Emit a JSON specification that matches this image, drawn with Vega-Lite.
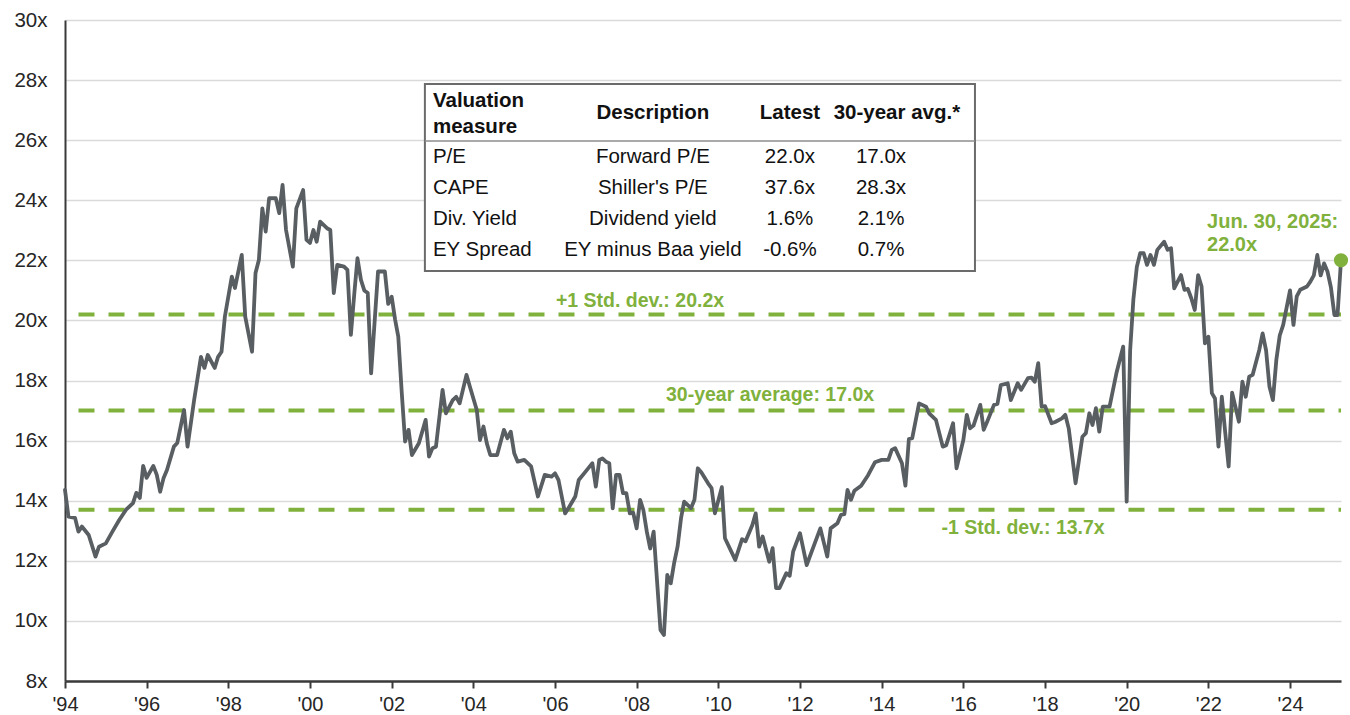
{
  "$schema": "https://vega.github.io/schema/vega-lite/v6.json",
  "width": 1276,
  "height": 661,
  "autosize": {"type": "none"},
  "padding": {"left": 65, "top": 20, "right": 9, "bottom": 34},
  "background": "#ffffff",
  "config": {
    "view": {"stroke": null},
    "font": "Liberation Sans",
    "axisX": {"grid": false, "domainColor": "#3a3a3a", "domainWidth": 2.5, "tickColor": "#3a3a3a", "tickWidth": 2, "tickSize": 7, "labelPadding": 6, "labelFontSize": 20, "labelColor": "#262626", "labelFlush": false, "labelOverlap": false, "labelFont": "Liberation Sans"},
    "axisY": {"grid": true, "gridColor": "#dadada", "gridWidth": 1.5, "domainColor": "#3a3a3a", "domainWidth": 2, "ticks": false, "labelPadding": 18, "labelFontSize": 20.5, "labelColor": "#262626", "labelFont": "Liberation Sans"}
  },
  "datasets": {
    "pe": [
      {"date": "1994-01-01", "value": 14.36}, {"date": "1994-02-01", "value": 13.47}, {"date": "1994-04-01", "value": 13.43}, {"date": "1994-05-01", "value": 12.97}, {"date": "1994-06-01", "value": 13.14}, {"date": "1994-08-01", "value": 12.86}, {"date": "1994-10-01", "value": 12.14}, {"date": "1994-11-01", "value": 12.47},
      {"date": "1995-01-01", "value": 12.58}, {"date": "1995-03-01", "value": 12.97}, {"date": "1995-05-01", "value": 13.36}, {"date": "1995-07-01", "value": 13.70}, {"date": "1995-09-01", "value": 13.92}, {"date": "1995-10-01", "value": 14.26}, {"date": "1995-11-01", "value": 14.09}, {"date": "1995-12-01", "value": 15.16},
      {"date": "1996-01-01", "value": 14.76}, {"date": "1996-03-01", "value": 15.16}, {"date": "1996-04-01", "value": 14.86}, {"date": "1996-05-01", "value": 14.30}, {"date": "1996-06-01", "value": 14.76}, {"date": "1996-07-01", "value": 15.02}, {"date": "1996-09-01", "value": 15.80}, {"date": "1996-10-01", "value": 15.92}, {"date": "1996-12-01", "value": 17.02},
      {"date": "1997-01-01", "value": 15.80}, {"date": "1997-03-01", "value": 17.35}, {"date": "1997-05-01", "value": 18.79}, {"date": "1997-06-01", "value": 18.42}, {"date": "1997-07-01", "value": 18.85}, {"date": "1997-09-01", "value": 18.42}, {"date": "1997-10-01", "value": 18.79}, {"date": "1997-11-01", "value": 18.96}, {"date": "1997-12-01", "value": 20.13},
      {"date": "1998-02-01", "value": 21.46}, {"date": "1998-03-01", "value": 21.08}, {"date": "1998-05-01", "value": 22.18}, {"date": "1998-06-01", "value": 20.13}, {"date": "1998-08-01", "value": 18.96}, {"date": "1998-09-01", "value": 21.58}, {"date": "1998-10-01", "value": 22.01}, {"date": "1998-11-01", "value": 23.73}, {"date": "1998-12-01", "value": 22.96},
      {"date": "1999-01-01", "value": 24.07}, {"date": "1999-03-01", "value": 24.07}, {"date": "1999-04-01", "value": 23.57}, {"date": "1999-05-01", "value": 24.51}, {"date": "1999-06-01", "value": 23.01}, {"date": "1999-08-01", "value": 21.79}, {"date": "1999-09-01", "value": 23.73}, {"date": "1999-11-01", "value": 24.34}, {"date": "1999-12-01", "value": 22.68},
      {"date": "2000-01-01", "value": 22.58}, {"date": "2000-02-01", "value": 23.01}, {"date": "2000-03-01", "value": 22.62}, {"date": "2000-04-01", "value": 23.29}, {"date": "2000-06-01", "value": 23.07}, {"date": "2000-07-01", "value": 23.01}, {"date": "2000-08-01", "value": 20.91}, {"date": "2000-09-01", "value": 21.85}, {"date": "2000-11-01", "value": 21.79}, {"date": "2000-12-01", "value": 21.68},
      {"date": "2001-01-01", "value": 19.52}, {"date": "2001-02-01", "value": 20.91}, {"date": "2001-03-01", "value": 22.07}, {"date": "2001-04-01", "value": 21.35}, {"date": "2001-05-01", "value": 21.00}, {"date": "2001-06-01", "value": 20.91}, {"date": "2001-07-01", "value": 18.24}, {"date": "2001-09-01", "value": 21.63}, {"date": "2001-11-01", "value": 21.63}, {"date": "2001-12-01", "value": 20.55},
      {"date": "2002-01-01", "value": 20.79}, {"date": "2002-02-01", "value": 20.02}, {"date": "2002-03-01", "value": 19.46}, {"date": "2002-04-01", "value": 17.60}, {"date": "2002-05-01", "value": 15.97}, {"date": "2002-06-01", "value": 16.36}, {"date": "2002-07-01", "value": 15.52}, {"date": "2002-09-01", "value": 15.91}, {"date": "2002-11-01", "value": 16.69}, {"date": "2002-12-01", "value": 15.47},
      {"date": "2003-01-01", "value": 15.75}, {"date": "2003-02-01", "value": 15.80}, {"date": "2003-04-01", "value": 17.69}, {"date": "2003-05-01", "value": 16.91}, {"date": "2003-07-01", "value": 17.35}, {"date": "2003-08-01", "value": 17.46}, {"date": "2003-09-01", "value": 17.24}, {"date": "2003-11-01", "value": 18.19}, {"date": "2003-12-01", "value": 17.80},
      {"date": "2004-02-01", "value": 17.02}, {"date": "2004-03-01", "value": 16.02}, {"date": "2004-04-01", "value": 16.47}, {"date": "2004-05-01", "value": 15.91}, {"date": "2004-06-01", "value": 15.52}, {"date": "2004-08-01", "value": 15.52}, {"date": "2004-10-01", "value": 16.36}, {"date": "2004-11-01", "value": 16.08}, {"date": "2004-12-01", "value": 16.30},
      {"date": "2005-01-01", "value": 15.58}, {"date": "2005-02-01", "value": 15.30}, {"date": "2005-04-01", "value": 15.36}, {"date": "2005-06-01", "value": 15.14}, {"date": "2005-08-01", "value": 14.14}, {"date": "2005-10-01", "value": 14.86}, {"date": "2005-12-01", "value": 14.80},
      {"date": "2006-01-01", "value": 14.91}, {"date": "2006-02-01", "value": 14.69}, {"date": "2006-04-01", "value": 13.58}, {"date": "2006-05-01", "value": 13.75}, {"date": "2006-07-01", "value": 14.14}, {"date": "2006-08-01", "value": 14.69}, {"date": "2006-10-01", "value": 14.97}, {"date": "2006-12-01", "value": 15.25},
      {"date": "2007-01-01", "value": 14.47}, {"date": "2007-02-01", "value": 15.36}, {"date": "2007-03-01", "value": 15.41}, {"date": "2007-04-01", "value": 15.30}, {"date": "2007-05-01", "value": 15.25}, {"date": "2007-06-01", "value": 13.75}, {"date": "2007-07-01", "value": 14.86}, {"date": "2007-08-01", "value": 14.86}, {"date": "2007-09-01", "value": 14.25}, {"date": "2007-10-01", "value": 14.25}, {"date": "2007-11-01", "value": 13.58}, {"date": "2007-12-01", "value": 13.60},
      {"date": "2008-01-01", "value": 13.08}, {"date": "2008-02-01", "value": 14.03}, {"date": "2008-03-01", "value": 13.69}, {"date": "2008-04-01", "value": 12.97}, {"date": "2008-05-01", "value": 12.41}, {"date": "2008-06-01", "value": 12.97}, {"date": "2008-07-01", "value": 11.36}, {"date": "2008-08-01", "value": 9.70}, {"date": "2008-09-01", "value": 9.53}, {"date": "2008-10-01", "value": 11.53}, {"date": "2008-11-01", "value": 11.25}, {"date": "2008-12-01", "value": 11.92},
      {"date": "2009-01-01", "value": 12.47}, {"date": "2009-02-01", "value": 13.42}, {"date": "2009-03-01", "value": 13.97}, {"date": "2009-05-01", "value": 13.75}, {"date": "2009-06-01", "value": 14.03}, {"date": "2009-07-01", "value": 15.08}, {"date": "2009-08-01", "value": 14.95}, {"date": "2009-10-01", "value": 14.58}, {"date": "2009-11-01", "value": 14.42}, {"date": "2009-12-01", "value": 13.58},
      {"date": "2010-02-01", "value": 14.45}, {"date": "2010-03-01", "value": 12.75}, {"date": "2010-06-01", "value": 12.03}, {"date": "2010-08-01", "value": 12.72}, {"date": "2010-09-01", "value": 12.65}, {"date": "2010-11-01", "value": 13.19}, {"date": "2010-12-01", "value": 13.58},
      {"date": "2011-01-01", "value": 12.47}, {"date": "2011-02-01", "value": 12.81}, {"date": "2011-04-01", "value": 11.97}, {"date": "2011-05-01", "value": 12.42}, {"date": "2011-06-01", "value": 11.09}, {"date": "2011-07-01", "value": 11.09}, {"date": "2011-09-01", "value": 11.59}, {"date": "2011-10-01", "value": 11.50}, {"date": "2011-11-01", "value": 12.31},
      {"date": "2012-01-01", "value": 12.92}, {"date": "2012-03-01", "value": 11.86}, {"date": "2012-05-01", "value": 12.47}, {"date": "2012-07-01", "value": 13.08}, {"date": "2012-09-01", "value": 12.14}, {"date": "2012-10-01", "value": 13.08}, {"date": "2012-12-01", "value": 13.25},
      {"date": "2013-01-01", "value": 13.53}, {"date": "2013-02-01", "value": 13.55}, {"date": "2013-03-01", "value": 14.36}, {"date": "2013-04-01", "value": 14.03}, {"date": "2013-05-01", "value": 14.33}, {"date": "2013-07-01", "value": 14.50}, {"date": "2013-09-01", "value": 14.85}, {"date": "2013-11-01", "value": 15.28},
      {"date": "2014-01-01", "value": 15.36}, {"date": "2014-03-01", "value": 15.36}, {"date": "2014-04-01", "value": 15.69}, {"date": "2014-05-01", "value": 15.75}, {"date": "2014-07-01", "value": 15.25}, {"date": "2014-08-01", "value": 14.50}, {"date": "2014-09-01", "value": 16.05}, {"date": "2014-10-01", "value": 16.08}, {"date": "2014-12-01", "value": 17.24},
      {"date": "2015-02-01", "value": 17.13}, {"date": "2015-03-01", "value": 16.91}, {"date": "2015-05-01", "value": 16.69}, {"date": "2015-07-01", "value": 15.80}, {"date": "2015-08-01", "value": 15.85}, {"date": "2015-10-01", "value": 16.58}, {"date": "2015-11-01", "value": 15.08},
      {"date": "2016-01-01", "value": 16.02}, {"date": "2016-02-01", "value": 16.86}, {"date": "2016-03-01", "value": 16.41}, {"date": "2016-04-01", "value": 16.50}, {"date": "2016-06-01", "value": 17.19}, {"date": "2016-07-01", "value": 16.36}, {"date": "2016-08-01", "value": 16.63}, {"date": "2016-10-01", "value": 17.19}, {"date": "2016-11-01", "value": 17.22}, {"date": "2016-12-01", "value": 17.85},
      {"date": "2017-02-01", "value": 17.91}, {"date": "2017-03-01", "value": 17.35}, {"date": "2017-05-01", "value": 17.91}, {"date": "2017-06-01", "value": 17.69}, {"date": "2017-08-01", "value": 18.08}, {"date": "2017-09-01", "value": 18.10}, {"date": "2017-10-01", "value": 17.96}, {"date": "2017-11-01", "value": 18.58}, {"date": "2017-12-01", "value": 17.13},
      {"date": "2018-01-01", "value": 17.15}, {"date": "2018-03-01", "value": 16.58}, {"date": "2018-04-01", "value": 16.62}, {"date": "2018-06-01", "value": 16.74}, {"date": "2018-07-01", "value": 16.86}, {"date": "2018-08-01", "value": 16.40}, {"date": "2018-10-01", "value": 14.58}, {"date": "2018-12-01", "value": 16.13},
      {"date": "2019-01-01", "value": 16.25}, {"date": "2019-02-01", "value": 16.91}, {"date": "2019-03-01", "value": 16.52}, {"date": "2019-04-01", "value": 17.08}, {"date": "2019-05-01", "value": 16.30}, {"date": "2019-06-01", "value": 17.13}, {"date": "2019-08-01", "value": 17.13}, {"date": "2019-10-01", "value": 18.24}, {"date": "2019-12-01", "value": 19.13},
      {"date": "2020-01-01", "value": 13.97}, {"date": "2020-02-01", "value": 19.00}, {"date": "2020-03-01", "value": 20.70}, {"date": "2020-04-01", "value": 21.79}, {"date": "2020-05-01", "value": 22.24}, {"date": "2020-06-01", "value": 22.24}, {"date": "2020-07-01", "value": 21.85}, {"date": "2020-08-01", "value": 22.18}, {"date": "2020-09-01", "value": 21.85}, {"date": "2020-10-01", "value": 22.35}, {"date": "2020-12-01", "value": 22.62},
      {"date": "2021-01-01", "value": 22.35}, {"date": "2021-02-01", "value": 22.40}, {"date": "2021-03-01", "value": 21.07}, {"date": "2021-05-01", "value": 21.51}, {"date": "2021-06-01", "value": 21.02}, {"date": "2021-07-01", "value": 21.05}, {"date": "2021-08-01", "value": 20.74}, {"date": "2021-09-01", "value": 20.35}, {"date": "2021-10-01", "value": 21.51}, {"date": "2021-11-01", "value": 21.13}, {"date": "2021-12-01", "value": 19.24},
      {"date": "2022-01-01", "value": 19.46}, {"date": "2022-02-01", "value": 17.58}, {"date": "2022-03-01", "value": 17.40}, {"date": "2022-04-01", "value": 15.80}, {"date": "2022-05-01", "value": 17.46}, {"date": "2022-06-01", "value": 16.25}, {"date": "2022-07-01", "value": 15.14}, {"date": "2022-08-01", "value": 17.60}, {"date": "2022-10-01", "value": 16.63}, {"date": "2022-11-01", "value": 17.96}, {"date": "2022-12-01", "value": 17.46},
      {"date": "2023-01-01", "value": 18.13}, {"date": "2023-02-01", "value": 18.19}, {"date": "2023-04-01", "value": 19.02}, {"date": "2023-05-01", "value": 19.57}, {"date": "2023-06-01", "value": 19.00}, {"date": "2023-07-01", "value": 17.80}, {"date": "2023-08-01", "value": 17.35}, {"date": "2023-09-01", "value": 18.70}, {"date": "2023-10-01", "value": 19.50}, {"date": "2023-11-01", "value": 19.85},
      {"date": "2024-01-01", "value": 21.00}, {"date": "2024-02-01", "value": 19.85}, {"date": "2024-03-01", "value": 20.80}, {"date": "2024-04-01", "value": 21.02}, {"date": "2024-06-01", "value": 21.13}, {"date": "2024-07-01", "value": 21.29}, {"date": "2024-08-01", "value": 21.50}, {"date": "2024-09-01", "value": 22.18}, {"date": "2024-10-01", "value": 21.50}, {"date": "2024-11-01", "value": 21.90}, {"date": "2024-12-01", "value": 21.63},
      {"date": "2025-01-01", "value": 21.10}, {"date": "2025-02-01", "value": 20.18}, {"date": "2025-03-01", "value": 20.18}, {"date": "2025-04-01", "value": 22.00}
    ],
    "latest": [{"date": "2025-04-01", "value": 22.0}],
    "levels": [{"value": 20.2}, {"value": 17.0}, {"value": 13.7}],
    "notes": [
      {"kind": "level", "text": "+1 Std. dev.: 20.2x", "date": "2008-01-31", "value": 20.66},
      {"kind": "level", "text": "30-year average: 17.0x", "date": "2011-04-08", "value": 17.52},
      {"kind": "level", "text": "-1 Std. dev.: 13.7x", "date": "2017-06-18", "value": 13.08},
      {"kind": "latest", "text": "Jun. 30, 2025:", "date": "2021-12-20", "value": 23.29},
      {"kind": "latest", "text": "22.0x", "date": "2021-12-20", "value": 22.51}
    ],
    "box": [{"date": "2002-10-25", "end": "2016-04-14", "value": 21.65, "top": 27.87}],
    "headline": [{"date": "2002-10-25", "end": "2016-04-14", "value": 25.97}],
    "table": [
      {"part": "head", "col": 1, "text": "Valuation", "date": "2003-01-05", "value": 27.30},
      {"part": "head", "col": 1, "text": "measure", "date": "2003-01-05", "value": 26.44},
      {"part": "head", "col": 2, "text": "Description", "date": "2008-05-25", "value": 26.91},
      {"part": "head", "col": 3, "text": "Latest", "date": "2011-10-03", "value": 26.91},
      {"part": "head", "col": 4, "text": "30-year avg.*", "date": "2014-05-17", "value": 26.91},
      {"part": "body", "col": 1, "text": "P/E", "date": "2003-01-05", "value": 25.43},
      {"part": "body", "col": 2, "text": "Forward P/E", "date": "2008-05-25", "value": 25.43},
      {"part": "body", "col": 3, "text": "22.0x", "date": "2011-10-03", "value": 25.43},
      {"part": "body", "col": 4, "text": "17.0x", "date": "2013-12-26", "value": 25.43},
      {"part": "body", "col": 1, "text": "CAPE", "date": "2003-01-05", "value": 24.42},
      {"part": "body", "col": 2, "text": "Shiller's P/E", "date": "2008-05-25", "value": 24.42},
      {"part": "body", "col": 3, "text": "37.6x", "date": "2011-10-03", "value": 24.42},
      {"part": "body", "col": 4, "text": "28.3x", "date": "2013-12-26", "value": 24.42},
      {"part": "body", "col": 1, "text": "Div. Yield", "date": "2003-01-05", "value": 23.38},
      {"part": "body", "col": 2, "text": "Dividend yield", "date": "2008-05-25", "value": 23.38},
      {"part": "body", "col": 3, "text": "1.6%", "date": "2011-10-03", "value": 23.38},
      {"part": "body", "col": 4, "text": "2.1%", "date": "2013-12-26", "value": 23.38},
      {"part": "body", "col": 1, "text": "EY Spread", "date": "2003-01-05", "value": 22.35},
      {"part": "body", "col": 2, "text": "EY minus Baa yield", "date": "2008-05-25", "value": 22.35},
      {"part": "body", "col": 3, "text": "-0.6%", "date": "2011-10-03", "value": 22.35},
      {"part": "body", "col": 4, "text": "0.7%", "date": "2013-12-26", "value": 22.35}
    ]
  },
  "layer": [
    {
      "data": {"name": "levels"},
      "mark": {"type": "rule", "color": "#80b13c", "strokeWidth": 4, "strokeDash": [16, 14], "strokeDashOffset": 13.5},
      "encoding": {
        "y": {"field": "value", "type": "quantitative", "title": null,
          "scale": {"domain": [8, 30], "nice": false, "zero": false},
          "axis": {"values": [8, 10, 12, 14, 16, 18, 20, 22, 24, 26, 28, 30], "labelExpr": "datum.value + 'x'"}}
      }
    },
    {
      "data": {"name": "pe"},
      "mark": {"type": "line", "color": "#595e62", "strokeWidth": 3.8, "strokeJoin": "round", "strokeCap": "round"},
      "encoding": {
        "x": {"field": "date", "type": "temporal", "title": null,
          "scale": {"type": "utc", "domain": [{"year": 1994, "month": 1, "date": 1, "utc": true}, {"year": 2025, "month": 4, "date": 1, "utc": true}]},
          "axis": {
            "values": [{"year": 1994, "utc": true}, {"year": 1996, "utc": true}, {"year": 1998, "utc": true}, {"year": 2000, "utc": true}, {"year": 2002, "utc": true}, {"year": 2004, "utc": true}, {"year": 2006, "utc": true}, {"year": 2008, "utc": true}, {"year": 2010, "utc": true}, {"year": 2012, "utc": true}, {"year": 2014, "utc": true}, {"year": 2016, "utc": true}, {"year": 2018, "utc": true}, {"year": 2020, "utc": true}, {"year": 2022, "utc": true}, {"year": 2024, "utc": true}],
            "labelExpr": "\"'\" + utcFormat(datum.value, '%y')"}},
        "y": {"field": "value", "type": "quantitative", "title": null}
      }
    },
    {
      "data": {"name": "latest"},
      "mark": {"type": "point", "filled": true, "size": 200, "color": "#80b13c", "opacity": 1},
      "encoding": {
        "x": {"field": "date", "type": "temporal", "title": null},
        "y": {"field": "value", "type": "quantitative", "title": null}
      }
    },
    {
      "data": {"name": "notes"},
      "transform": [{"filter": "datum.kind == 'level'"}],
      "mark": {"type": "text", "align": "center", "baseline": "middle", "fontSize": 19.5, "fontWeight": "bold", "color": "#80b13c", "font": "Liberation Sans"},
      "encoding": {
        "x": {"field": "date", "type": "temporal", "title": null},
        "y": {"field": "value", "type": "quantitative", "title": null},
        "text": {"field": "text", "type": "nominal"}
      }
    },
    {
      "data": {"name": "notes"},
      "transform": [{"filter": "datum.kind == 'latest'"}],
      "mark": {"type": "text", "align": "left", "baseline": "middle", "fontSize": 20, "fontWeight": "bold", "color": "#80b13c", "font": "Liberation Sans"},
      "encoding": {
        "x": {"field": "date", "type": "temporal", "title": null},
        "y": {"field": "value", "type": "quantitative", "title": null},
        "text": {"field": "text", "type": "nominal"}
      }
    },
    {
      "data": {"name": "box"},
      "mark": {"type": "rect", "fill": "#ffffff", "stroke": "#6b6b6b", "strokeWidth": 2},
      "encoding": {
        "x": {"field": "date", "type": "temporal", "title": null},
        "x2": {"field": "end"},
        "y": {"field": "value", "type": "quantitative", "title": null},
        "y2": {"field": "top"}
      }
    },
    {
      "data": {"name": "headline"},
      "mark": {"type": "rule", "color": "#8c8c8c", "strokeWidth": 1.5},
      "encoding": {
        "x": {"field": "date", "type": "temporal", "title": null},
        "x2": {"field": "end"},
        "y": {"field": "value", "type": "quantitative", "title": null}
      }
    },
    {
      "data": {"name": "table"},
      "transform": [{"filter": "datum.part == 'head' && datum.col == 1"}],
      "mark": {"type": "text", "align": "left", "baseline": "middle", "fontSize": 20.5, "fontWeight": "bold", "color": "#111111", "font": "Liberation Sans"},
      "encoding": {
        "x": {"field": "date", "type": "temporal", "title": null},
        "y": {"field": "value", "type": "quantitative", "title": null},
        "text": {"field": "text", "type": "nominal"}
      }
    },
    {
      "data": {"name": "table"},
      "transform": [{"filter": "datum.part == 'head' && datum.col > 1"}],
      "mark": {"type": "text", "align": "center", "baseline": "middle", "fontSize": 20.5, "fontWeight": "bold", "color": "#111111", "font": "Liberation Sans"},
      "encoding": {
        "x": {"field": "date", "type": "temporal", "title": null},
        "y": {"field": "value", "type": "quantitative", "title": null},
        "text": {"field": "text", "type": "nominal"}
      }
    },
    {
      "data": {"name": "table"},
      "transform": [{"filter": "datum.part == 'body' && datum.col == 1"}],
      "mark": {"type": "text", "align": "left", "baseline": "middle", "fontSize": 20.5, "color": "#111111", "font": "Liberation Sans"},
      "encoding": {
        "x": {"field": "date", "type": "temporal", "title": null},
        "y": {"field": "value", "type": "quantitative", "title": null},
        "text": {"field": "text", "type": "nominal"}
      }
    },
    {
      "data": {"name": "table"},
      "transform": [{"filter": "datum.part == 'body' && datum.col > 1"}],
      "mark": {"type": "text", "align": "center", "baseline": "middle", "fontSize": 20.5, "color": "#111111", "font": "Liberation Sans"},
      "encoding": {
        "x": {"field": "date", "type": "temporal", "title": null},
        "y": {"field": "value", "type": "quantitative", "title": null},
        "text": {"field": "text", "type": "nominal"}
      }
    }
  ]
}
